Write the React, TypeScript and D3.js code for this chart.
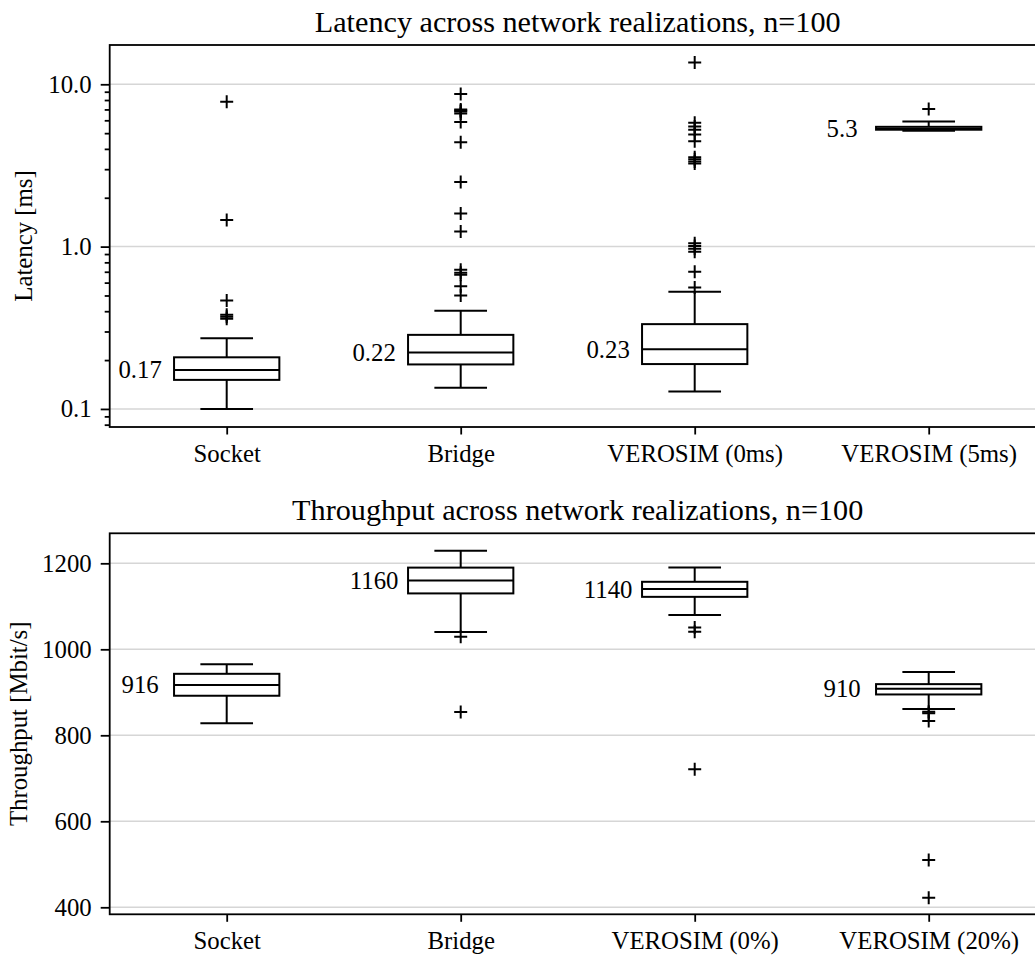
import React, { useEffect, useRef } from 'react';
import * as d3 from 'd3';

// latency panel (ms, log axis)
const latencyCategories = ['Socket', 'Bridge', 'VEROSIM (0ms)', 'VEROSIM (5ms)'];
const latencyQ1 = [0.151, 0.188, 0.189, 5.25];
const latencyMedian = [0.174, 0.223, 0.233, 5.33];
const latencyQ3 = [0.208, 0.286, 0.333, 5.47];
const latencyWhiskerLow = [0.1, 0.135, 0.128, 5.18];
const latencyWhiskerHigh = [0.273, 0.402, 0.528, 5.89];
const latencyFliers = [
  [7.8, 1.46, 0.465, 0.38, 0.37, 0.36],
  [8.7, 7.0, 6.9, 6.8, 6.6, 5.85, 4.4, 2.5, 1.6, 1.24, 0.72, 0.69, 0.67, 0.57, 0.5],
  [13.6, 5.8, 5.5, 5.25, 4.9, 4.45, 3.55, 3.45, 3.35, 3.25, 1.05, 1.01, 0.97, 0.93, 0.7, 0.56],
  [7.05],
];
const latencyMedianLabels = ['0.17', '0.22', '0.23', '5.3'];
const latencyTicks = [0.1, 1, 10];
const latencyTickLabels = ['0.1', '1.0', '10.0'];
const latencyLimits = [0.0774, 17.46];

// throughput panel (Mbit/s)
const throughputCategories = ['Socket', 'Bridge', 'VEROSIM (0%)', 'VEROSIM (20%)'];
const throughputQ1 = [892, 1130, 1122, 895];
const throughputMedian = [917, 1160, 1140, 908];
const throughputQ3 = [943, 1190, 1157, 919];
const throughputWhiskerLow = [828, 1040, 1080, 861];
const throughputWhiskerHigh = [965, 1229, 1190, 947];
const throughputFliers = [
  [],
  [1029, 854],
  [1051, 1041, 721],
  [855, 851, 833, 510, 422],
];
const throughputMedianLabels = ['916', '1160', '1140', '910'];
const throughputTicks = [400, 600, 800, 1000, 1200];
const throughputTickLabels = ['400', '600', '800', '1000', '1200'];
const throughputLimits = [383.7, 1269.8];

const FONT = '"Liberation Serif", "Times New Roman", serif';
const LABEL_SIZE = 24.8;
const TITLE_SIZE = 30.2;
const LEFT = 109.7;
const RIGHT = 1045.7;

function drawPanel(root, p) {
  const x = d3.scaleLinear().domain([0.5, 4.5]).range([LEFT, RIGHT]);
  const y = p.y;
  const g = root.append('g');

  root
    .append('defs')
    .append('clipPath')
    .attr('id', p.clipId)
    .append('rect')
    .attr('x', LEFT)
    .attr('y', p.top)
    .attr('width', RIGHT - LEFT)
    .attr('height', p.bottom - p.top);

  // grid
  g.append('g')
    .selectAll('line')
    .data(p.ticks)
    .join('line')
    .attr('x1', LEFT)
    .attr('x2', RIGHT)
    .attr('y1', d => y(d))
    .attr('y2', d => y(d))
    .attr('stroke', '#d6d6d6')
    .attr('stroke-width', 1.5);

  const boxW = 0.45;
  const capW = 0.225;
  const marks = g
    .append('g')
    .attr('clip-path', `url(#${p.clipId})`)
    .attr('stroke', '#000')
    .attr('stroke-width', 2)
    .attr('fill', 'none');

  p.categories.forEach((c, i) => {
    const pos = i + 1;
    const cx = x(pos);
    const bx0 = x(pos - boxW / 2);
    const bx1 = x(pos + boxW / 2);
    const cx0 = x(pos - capW / 2);
    const cx1 = x(pos + capW / 2);
    // whiskers
    marks.append('line').attr('x1', cx).attr('x2', cx).attr('y1', y(p.q1[i])).attr('y2', y(p.whiskerLow[i]));
    marks.append('line').attr('x1', cx).attr('x2', cx).attr('y1', y(p.q3[i])).attr('y2', y(p.whiskerHigh[i]));
    marks.append('line').attr('x1', cx0).attr('x2', cx1).attr('y1', y(p.whiskerLow[i])).attr('y2', y(p.whiskerLow[i]));
    marks.append('line').attr('x1', cx0).attr('x2', cx1).attr('y1', y(p.whiskerHigh[i])).attr('y2', y(p.whiskerHigh[i]));
    // box
    marks
      .append('rect')
      .attr('x', bx0)
      .attr('width', bx1 - bx0)
      .attr('y', y(p.q3[i]))
      .attr('height', y(p.q1[i]) - y(p.q3[i]));
    marks.append('line').attr('x1', bx0).attr('x2', bx1).attr('y1', y(p.median[i])).attr('y2', y(p.median[i]));
    // fliers
    marks
      .append('g')
      .selectAll('path')
      .data(p.fliers[i])
      .join('path')
      .attr('d', 'M-6.5,0H6.5M0,-6.5V6.5')
      .attr('transform', d => `translate(${cx},${y(d)})`);
    // median label
    g.append('text')
      .attr('x', x(pos - 0.37))
      .attr('y', y(p.median[i]))
      .attr('dy', '0.34em')
      .attr('text-anchor', 'middle')
      .attr('font-family', FONT)
      .attr('font-size', LABEL_SIZE)
      .text(p.medianLabels[i]);
  });

  // axes
  const styleAxis = sel => {
    sel.select('.domain').remove();
    sel.attr('font-family', FONT).attr('font-size', LABEL_SIZE);
    sel.selectAll('line').attr('stroke', '#000').attr('stroke-width', 1.8);
    sel.selectAll('text').attr('fill', '#000');
  };

  g.append('g')
    .attr('transform', `translate(${LEFT},0)`)
    .call(
      d3
        .axisLeft(y)
        .tickValues(p.ticks)
        .tickFormat(d => p.tickLabels[p.ticks.indexOf(d)])
        .tickSize(9)
        .tickPadding(9)
        .tickSizeOuter(0),
    )
    .call(styleAxis);

  if (p.minorTicks.length) {
    g.append('g')
      .attr('transform', `translate(${LEFT},0)`)
      .call(d3.axisLeft(y).tickValues(p.minorTicks).tickFormat(() => '').tickSize(5).tickSizeOuter(0))
      .call(styleAxis);
  }

  g.append('g')
    .attr('transform', `translate(0,${p.bottom})`)
    .call(
      d3
        .axisBottom(x)
        .tickValues([1, 2, 3, 4])
        .tickFormat(d => p.categories[d - 1])
        .tickSize(7.5)
        .tickPadding(9.5)
        .tickSizeOuter(0),
    )
    .call(styleAxis);

  // frame
  g.append('rect')
    .attr('x', LEFT)
    .attr('y', p.top)
    .attr('width', RIGHT - LEFT)
    .attr('height', p.bottom - p.top)
    .attr('fill', 'none')
    .attr('stroke', '#000')
    .attr('stroke-width', 1.8);

  g.append('text')
    .attr('x', (LEFT + RIGHT) / 2)
    .attr('y', p.top - 13.5)
    .attr('text-anchor', 'middle')
    .attr('font-family', FONT)
    .attr('font-size', TITLE_SIZE)
    .text(p.title);

  g.append('text')
    .attr('transform', `translate(${p.yLabelX},${(p.top + p.bottom) / 2}) rotate(-90)`)
    .attr('text-anchor', 'middle')
    .attr('font-family', FONT)
    .attr('font-size', LABEL_SIZE)
    .text(p.yLabel);
}

export default function App() {
  const ref = useRef(null);

  useEffect(() => {
    const svg = d3.select(ref.current);
    svg.selectAll('*').remove();

    const yLat = d3.scaleLog().domain(latencyLimits).range([427, 45]);
    const minor = yLat.ticks().filter(t => !latencyTicks.some(m => Math.abs(m - t) < 1e-9));

    drawPanel(svg, {
      clipId: 'clip-latency',
      title: 'Latency across network realizations, n=100',
      yLabel: 'Latency [ms]',
      yLabelX: 31.5,
      top: 45,
      bottom: 427,
      y: yLat,
      ticks: latencyTicks,
      tickLabels: latencyTickLabels,
      minorTicks: minor,
      categories: latencyCategories,
      q1: latencyQ1,
      median: latencyMedian,
      q3: latencyQ3,
      whiskerLow: latencyWhiskerLow,
      whiskerHigh: latencyWhiskerHigh,
      fliers: latencyFliers,
      medianLabels: latencyMedianLabels,
    });

    const yThr = d3.scaleLinear().domain(throughputLimits).range([914.3, 533.3]);
    drawPanel(svg, {
      clipId: 'clip-throughput',
      title: 'Throughput across network realizations, n=100',
      yLabel: 'Throughput [Mbit/s]',
      yLabelX: 26.5,
      top: 533.3,
      bottom: 914.3,
      y: yThr,
      ticks: throughputTicks,
      tickLabels: throughputTickLabels,
      minorTicks: [],
      categories: throughputCategories,
      q1: throughputQ1,
      median: throughputMedian,
      q3: throughputQ3,
      whiskerLow: throughputWhiskerLow,
      whiskerHigh: throughputWhiskerHigh,
      fliers: throughputFliers,
      medianLabels: throughputMedianLabels,
    });
  }, []);

  return (
    <svg
      ref={ref}
      width={1035}
      height={955}
      style={{ position: 'absolute', left: 0, top: 0, background: '#fff' }}
    />
  );
}
